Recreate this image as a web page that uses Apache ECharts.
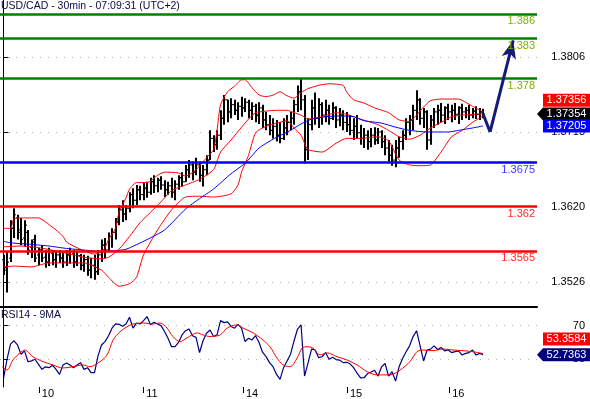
<!DOCTYPE html>
<html>
<head>
<meta charset="utf-8">
<title>USD/CAD 30min</title>
<script src="https://cdn.jsdelivr.net/npm/echarts@6/dist/echarts.min.js"></script>
<style>
  html, body { margin: 0; padding: 0; background: #fff; }
  #chart { width: 590px; height: 399px; }
</style>
</head>
<body>
<div id="chart"></div>
<script>
// price bars, one per 30min: [open, close, low, high]
const bars = [
  [1.3554,1.3541,1.3535,1.3560],[1.3544,1.3551,1.3513,1.3564],[1.3556,1.3593,1.3551,1.3603],[1.3593,1.3610,1.3581,1.3618],
  [1.3606,1.3588,1.3579,1.3610],[1.3591,1.3579,1.3572,1.3606],[1.3581,1.3597,1.3570,1.3603],[1.3588,1.3566,1.3560,1.3591],
  [1.3569,1.3576,1.3556,1.3579],[1.3579,1.3556,1.3551,1.3585],[1.3560,1.3566,1.3547,1.3569],[1.3566,1.3556,1.3551,1.3572],
  [1.3557,1.3551,1.3544,1.3566],[1.3551,1.3564,1.3546,1.3569],[1.3562,1.3554,1.3547,1.3566],[1.3554,1.3560,1.3544,1.3564],
  [1.3560,1.3556,1.3550,1.3566],[1.3556,1.3551,1.3544,1.3564],[1.3551,1.3560,1.3546,1.3566],[1.3560,1.3564,1.3549,1.3569],
  [1.3562,1.3551,1.3544,1.3566],[1.3551,1.3559,1.3546,1.3564],[1.3559,1.3547,1.3541,1.3561],[1.3547,1.3554,1.3539,1.3560],
  [1.3554,1.3541,1.3534,1.3559],[1.3541,1.3547,1.3531,1.3556],[1.3547,1.3539,1.3529,1.3560],[1.3539,1.3560,1.3535,1.3566],
  [1.3560,1.3572,1.3551,1.3579],[1.3572,1.3566,1.3556,1.3581],[1.3566,1.3583,1.3564,1.3588],[1.3583,1.3588,1.3569,1.3593],
  [1.3588,1.3601,1.3579,1.3606],[1.3601,1.3616,1.3597,1.3622],[1.3616,1.3611,1.3601,1.3628],[1.3611,1.3618,1.3603,1.3622],
  [1.3618,1.3635,1.3613,1.3638],[1.3635,1.3628,1.3618,1.3643],[1.3628,1.3641,1.3622,1.3647],[1.3641,1.3635,1.3628,1.3646],
  [1.3635,1.3643,1.3628,1.3650],[1.3643,1.3638,1.3631,1.3651],[1.3638,1.3651,1.3635,1.3656],[1.3651,1.3646,1.3637,1.3659],
  [1.3646,1.3653,1.3638,1.3656],[1.3653,1.3647,1.3641,1.3658],[1.3647,1.3641,1.3632,1.3653],[1.3641,1.3646,1.3635,1.3651],
  [1.3646,1.3638,1.3631,1.3656],[1.3638,1.3648,1.3628,1.3653],[1.3648,1.3656,1.3641,1.3659],[1.3656,1.3651,1.3645,1.3663],
  [1.3651,1.3666,1.3651,1.3672],[1.3666,1.3672,1.3656,1.3678],[1.3672,1.3663,1.3653,1.3676],[1.3663,1.3672,1.3659,1.3681],
  [1.3672,1.3659,1.3651,1.3676],[1.3659,1.3666,1.3645,1.3672],[1.3666,1.3678,1.3659,1.3684],[1.3678,1.3705,1.3678,1.3715],
  [1.3705,1.3697,1.3688,1.3709],[1.3697,1.3709,1.3691,1.3715],[1.3709,1.3730,1.3703,1.3740],[1.3730,1.3753,1.3722,1.3759],
  [1.3753,1.3738,1.3725,1.3753],[1.3738,1.3747,1.3730,1.3755],[1.3747,1.3740,1.3734,1.3753],[1.3740,1.3745,1.3728,1.3750],
  [1.3745,1.3743,1.3732,1.3757],[1.3743,1.3750,1.3738,1.3755],[1.3750,1.3740,1.3730,1.3753],[1.3740,1.3745,1.3728,1.3750],
  [1.3745,1.3734,1.3725,1.3748],[1.3734,1.3743,1.3723,1.3750],[1.3743,1.3728,1.3718,1.3747],[1.3728,1.3722,1.3715,1.3738],
  [1.3722,1.3715,1.3709,1.3734],[1.3715,1.3720,1.3705,1.3730],[1.3720,1.3709,1.3701,1.3728],[1.3709,1.3705,1.3699,1.3725],
  [1.3705,1.3718,1.3703,1.3730],[1.3718,1.3725,1.3709,1.3734],[1.3725,1.3730,1.3715,1.3738],[1.3730,1.3747,1.3722,1.3753],
  [1.3747,1.3763,1.3738,1.3771],[1.3763,1.3753,1.3740,1.3780],[1.3753,1.3691,1.3674,1.3759],[1.3691,1.3722,1.3678,1.3730],
  [1.3722,1.3743,1.3715,1.3753],[1.3743,1.3730,1.3722,1.3762],[1.3730,1.3747,1.3718,1.3755],[1.3747,1.3734,1.3722,1.3750],
  [1.3734,1.3740,1.3725,1.3753],[1.3740,1.3730,1.3722,1.3747],[1.3730,1.3743,1.3728,1.3750],[1.3743,1.3728,1.3718,1.3745],
  [1.3728,1.3734,1.3720,1.3743],[1.3734,1.3725,1.3715,1.3740],[1.3725,1.3722,1.3713,1.3738],[1.3722,1.3715,1.3709,1.3734],
  [1.3715,1.3720,1.3703,1.3730],[1.3720,1.3712,1.3705,1.3734],[1.3712,1.3705,1.3697,1.3722],[1.3705,1.3709,1.3693,1.3718],
  [1.3709,1.3701,1.3691,1.3715],[1.3701,1.3709,1.3694,1.3718],[1.3709,1.3703,1.3697,1.3719],[1.3703,1.3713,1.3698,1.3718],
  [1.3713,1.3701,1.3693,1.3715],[1.3701,1.3693,1.3684,1.3709],[1.3693,1.3684,1.3676,1.3703],[1.3684,1.3678,1.3671,1.3697],
  [1.3678,1.3693,1.3669,1.3703],[1.3693,1.3701,1.3681,1.3707],[1.3701,1.3709,1.3691,1.3715],[1.3709,1.3725,1.3703,1.3730],
  [1.3725,1.3728,1.3709,1.3734],[1.3728,1.3740,1.3715,1.3747],[1.3740,1.3753,1.3728,1.3765],[1.3753,1.3730,1.3722,1.3755],
  [1.3730,1.3738,1.3718,1.3743],[1.3738,1.3703,1.3691,1.3740],[1.3703,1.3728,1.3697,1.3734],[1.3728,1.3738,1.3718,1.3743],
  [1.3738,1.3740,1.3722,1.3747],[1.3740,1.3734,1.3725,1.3749],[1.3734,1.3743,1.3723,1.3745],[1.3743,1.3738,1.3728,1.3748],
  [1.3738,1.3740,1.3725,1.3747],[1.3740,1.3735,1.3728,1.3749],[1.3735,1.3743,1.3723,1.3745],[1.3743,1.3738,1.3728,1.3748],
  [1.3738,1.3740,1.3730,1.3744],[1.3740,1.3734,1.3728,1.3747],[1.3734,1.3739,1.3730,1.3743],[1.3739,1.3735,1.3729,1.3745],
  [1.3735,1.3738,1.3728,1.3743],[1.3738,1.37354,1.3730,1.3742]
];

// bollinger bands and moving average, [bar index, price]
const bbUpper = [[0,1.3593],[2,1.3593],[3,1.3605],[6,1.3606],[10,1.3606],[12,1.3601],[15,1.3591],[17,1.3583],[18,1.3576],[20,1.3571],
  [23,1.3565],[26,1.3561],[28,1.3564],[29,1.3569],[30,1.3579],[32,1.3593],[33,1.3613],[35,1.3631],[36,1.3642],[38,1.3650],
  [41,1.3650],[44,1.3659],[46,1.3663],[50,1.3662],[52,1.3658],[55,1.3666],[57,1.3676],[58,1.3681],[60,1.3691],[61,1.3715],
  [62,1.3747],[64,1.3763],[66,1.3770],[68,1.3778],[69,1.3778],[71,1.3768],[73,1.3759],[75,1.3757],[77,1.3759],[79,1.3763],
  [81,1.3758],[83,1.3755],[85,1.3762],[87,1.3767],[90,1.3771],[93,1.3773],[97,1.3771],[98,1.3763],[100,1.3753],[103,1.3749],
  [106,1.3743],[110,1.3737],[113,1.3728],[116,1.3726],[118,1.3734],[120,1.3744],[122,1.3752],[125,1.3754],[130,1.3754],
  [132,1.3750],[134,1.3745],[137,1.3738]];
const bbMid = [[0,1.3570],[5,1.3571],[10,1.3569],[16,1.3564],[23,1.3557],[28,1.3555],[30,1.3557],[33,1.3567],[36,1.3583],
  [39,1.3600],[42,1.3613],[45,1.3626],[48,1.3640],[52,1.3647],[56,1.3654],[60,1.3666],[62,1.3688],[65,1.3703],[68,1.3719],
  [70,1.3729],[72,1.3737],[75,1.3739],[78,1.3740],[81,1.3740],[83,1.3737],[85,1.3734],[87,1.3729],[91,1.3732],[95,1.3737],
  [98,1.3735],[102,1.3729],[107,1.3722],[110,1.3715],[113,1.3707],[116,1.3704],[119,1.3709],[122,1.3718],[125,1.3725],
  [128,1.3732],[131,1.3734],[134,1.3735],[137,1.37356]];
const bbLower = [[0,1.3545],[3,1.3546],[8,1.3545],[13,1.3550],[23,1.3550],[28,1.3541],[30,1.3532],[33,1.3521],[36,1.3524],
  [38,1.3532],[40,1.3560],[44,1.3591],[48,1.3616],[52,1.3632],[56,1.3633],[60,1.3632],[65,1.3636],[67,1.3647],[68,1.3663],
  [70,1.3684],[72,1.3712],[75,1.3720],[78,1.3724],[81,1.3727],[83,1.3718],[85,1.3709],[86,1.3699],[87,1.3691],[91,1.3688],
  [95,1.3699],[98,1.3705],[102,1.3705],[107,1.3707],[110,1.3702],[113,1.3678],[116,1.3672],[119,1.3671],[122,1.3672],
  [125,1.3688],[128,1.3707],[131,1.3715],[134,1.3725],[137,1.3733]];
const ma = [[0,1.3577],[2,1.3575],[8,1.3573],[13,1.3571],[18,1.3568],[23,1.3566],[28,1.3564],[31,1.3565],[35,1.3567],
  [41,1.3579],[46,1.3591],[52,1.3617],[56,1.3630],[60,1.3642],[65,1.3661],[69,1.3674],[73,1.3693],[77,1.3704],[82,1.3715],
  [85,1.3723],[88,1.3729],[92,1.3732],[96,1.3733],[100,1.3732],[103,1.3727],[108,1.3724],[112,1.3719],[116,1.3715],
  [121,1.3713],[127,1.3713],[130,1.3715],[134,1.3718],[137,1.37205]];

// support / resistance levels
const resistances = [1.386, 1.383, 1.378];
const pivot = 1.3675;
const supports = [1.362, 1.3565];

// projected path: last bar, dip, target
const projection = [[137, 1.37354], [139, 1.3713], [145.6, 1.3827]];

// RSI14, one per bar
const rsi = [38.5,50,59,61,58.5,53,55,48.5,49,50, 47,44,45.5,45,46.5,44,41,46.6,47.8,46.6,
  45,46.6,48,44,45,42,42,52,58.5,60.5, 64,68.5,71,70.8,69.6,71,75,68.5,71.5,71,
  73,75.4,70.6,72,71,70,66.5,62.5,57.5,57.5, 60,64.5,67,68,64,63,54,61,65.5,67.4,
  63.5,64.5,73,71.8,72.2,69.5,68.5,70.8,68.5,60.5, 62.5,61.5,64,60,54.2,51.6,48,45.6,41,38,
  45,49,53,61,68,70.5,40,47.8,56,55.5, 51,51.5,54,50,51.2,49.8,49.5,48,48.2,47.3,
  45,41.7,38.9,39,41.5,42.4,43.5,40,45.5,47.5, 40,42.6,37,45.5,50.5,54.5,58,63.5,67,58,
  49,55.5,56,58,55.8,57,55,55.5,54,54.5, 55,52.5,53.5,54,55.5,52.5,53.5,52.7363];
// 9 period MA of RSI, [bar index, value]
const rsiMa = [[-0.4,45.6],[1,43.6],[2.7,49.6],[4.7,53.8],[6.1,55.5],[8.4,51.5],[11.3,48.6],[14.1,46.6],[17,44.8],
  [19.9,45.6],[22.7,46.6],[24.7,45.6],[27.6,48.6],[29.6,52.6],[31.3,61.5],[33.3,66.4],[35.3,69.4],[37,71.0],[39.9,71.6],
  [42.7,71.0],[44.7,71.6],[46.7,68.6],[48.4,63.5],[50.4,60.5],[52.4,62.7],[55.3,65.7],[57,64.5],[59,63.5],[61.9,64.5],
  [63.9,68.6],[66.7,70.4],[68.4,68.6],[71.3,65.7],[74.1,61.5],[76.1,57.5],[78.1,50.8],[79.9,46.6],[81.9,45.6],[83.9,50.8],
  [85.3,56.7],[86.7,57.5],[88.4,56.7],[90.4,52.6],[92.4,53.8],[95.3,51.5],[98.1,49.6],[101,46.6],[103.9,42.6],[106.7,40.7],
  [110.4,40.7],[113.3,43.6],[116.1,48.6],[118.1,54.5],[119.9,55.5],[122.7,55.1],[125.6,56.1],[128.4,55.5],[131.3,55.1],
  [134.1,54.5],[137,53.3584]];

// axis ticks
const priceTicks = [1.3526, 1.3620, 1.3713, 1.3806];
const rsiTicks = [50, 70];
const dayTicks = [10.1, 39.9, 68.4, 98.1, 127.3];
const dayLabels = ['10', '11', '14', '15', '16'];

const FONT = 'Liberation Sans, Arial, sans-serif';
const X_MIN = -1, X_MAX = 152.4;
const last = a => a[a.length - 1][1];
const closeLast = bars[bars.length - 1][1];

const chart = echarts.init(document.getElementById('chart'));

function renderBar(params, api) {
  const i = api.value(0);
  const o = api.coord([i, api.value(1)]);
  const c = api.coord([i, api.value(2)]);
  const l = api.coord([i, api.value(3)]);
  const h = api.coord([i, api.value(4)]);
  const x = Math.round(o[0]);
  return {
    type: 'group',
    children: [
      { type: 'line', shape: { x1: x, y1: h[1], x2: x, y2: l[1] }, style: { stroke: '#000', lineWidth: 2 } },
      { type: 'line', shape: { x1: x - 2, y1: o[1], x2: x, y2: o[1] }, style: { stroke: '#000', lineWidth: 1 } },
      { type: 'line', shape: { x1: x, y1: c[1], x2: x + 2, y2: c[1] }, style: { stroke: '#000', lineWidth: 1 } }
    ]
  };
}

const tagArrow = 'path://M0,6.5 L6,0 L53,0 L53,13 L6,13 Z';

const levelData = [
  ...resistances.map(v => ({ yAxis: v, lineStyle: { color: '#008000' }, label: { color: '#7fb000' } })),
  { yAxis: pivot, lineStyle: { color: '#0000ff' }, label: { color: '#3b3bff' } },
  ...supports.map(v => ({ yAxis: v, lineStyle: { color: '#ff0000' }, label: { color: '#ff2a2a' } }))
];

const option = {
  animation: false,
  backgroundColor: '#fff',
  textStyle: { fontFamily: FONT },
  title: [
    { text: 'USD/CAD - 30min - 07:09:31 (UTC+2)', left: 1, top: 1, padding: 0,
      textStyle: { fontSize: 10.5, fontWeight: 'normal', color: '#0c0c40', fontFamily: FONT } },
    { text: 'RSI14 - 9MA', left: 1, top: 310, padding: 0,
      textStyle: { fontSize: 10.5, fontWeight: 'normal', color: '#0c0c40', fontFamily: FONT } }
  ],
  grid: [
    { left: 0, right: 53, top: 0, bottom: 92 },
    { left: 0, right: 53, top: 308, bottom: 12 }
  ],
  xAxis: [
    { gridIndex: 0, type: 'value', min: X_MIN, max: X_MAX,
      axisLine: { show: true, onZero: false, lineStyle: { color: '#000', width: 2 } },
      axisTick: { show: false }, axisLabel: { show: false }, splitLine: { show: false } },
    { gridIndex: 1, type: 'value', min: X_MIN, max: X_MAX,
      axisLine: { show: false, onZero: false },
      axisTick: { show: true, customValues: dayTicks, length: 6, lineStyle: { color: '#000' } },
      axisLabel: { show: true, customValues: dayTicks, align: 'left', padding: [0, 0, 0, 3], margin: 1,
        fontSize: 11, color: '#000', fontFamily: FONT,
        formatter: v => dayLabels[dayTicks.findIndex(t => Math.abs(t - v) < 1e-6)] || '' },
      splitLine: { show: false } }
  ],
  yAxis: [
    { gridIndex: 0, type: 'value', position: 'right', min: 1.34951, max: 1.38773,
      axisLine: { show: true, lineStyle: { color: '#000', width: 1 } },
      axisTick: { show: true, customValues: priceTicks, length: 6, lineStyle: { color: '#000' } },
      axisLabel: { show: true, customValues: priceTicks, align: 'right', margin: 48, fontSize: 11,
        color: '#000', fontFamily: FONT, formatter: v => v.toFixed(4) },
      splitLine: { show: false } },
    { gridIndex: 1, type: 'value', position: 'right', min: 33.5, max: 80.5,
      axisLine: { show: true, lineStyle: { color: '#000', width: 1 } },
      axisTick: { show: true, customValues: rsiTicks, length: 6, lineStyle: { color: '#000' } },
      axisLabel: { show: true, customValues: rsiTicks, align: 'right', margin: 48, fontSize: 11,
        color: '#000', fontFamily: FONT, formatter: v => String(v) },
      splitLine: { show: false } }
  ],
  series: [
    {
      name: 'bars', type: 'custom', xAxisIndex: 0, yAxisIndex: 0, z: 2,
      renderItem: renderBar,
      encode: { x: 0, y: [1, 2, 3, 4] },
      data: bars.map((b, i) => [i, b[0], b[1], b[2], b[3]])
    },
    {
      name: 'bbUpper', type: 'line', xAxisIndex: 0, yAxisIndex: 0, z: 3,
      showSymbol: false, smooth: 0.2, lineStyle: { color: '#ff0000', width: 1 }, data: bbUpper,
      markLine: { silent: true, z: 1, precision: 5, symbol: ['none', 'none'], label: { show: false },
        lineStyle: { color: '#b4b4b4', type: [1, 7], width: 1 },
        data: priceTicks.map(v => ({ yAxis: v })) }
    },
    {
      name: 'bbMid', type: 'line', xAxisIndex: 0, yAxisIndex: 0, z: 3,
      showSymbol: false, smooth: 0.2, lineStyle: { color: '#ff0000', width: 1 }, data: bbMid
    },
    {
      name: 'bbLower', type: 'line', xAxisIndex: 0, yAxisIndex: 0, z: 3,
      showSymbol: false, smooth: 0.2, lineStyle: { color: '#ff0000', width: 1 }, data: bbLower,
      markLine: { silent: true, precision: 5, symbol: ['none', 'none'],
        lineStyle: { width: 2.5, type: 'solid' },
        label: { show: true, position: 'insideEndBottom', distance: [2, 2], fontSize: 11, fontFamily: FONT,
          formatter: p => String(p.value) },
        data: levelData }
    },
    {
      name: 'ma', type: 'line', xAxisIndex: 0, yAxisIndex: 0, z: 3,
      showSymbol: false, smooth: 0.2, lineStyle: { color: '#0000ff', width: 1 }, data: ma,
      markLine: { silent: true, precision: 5, symbol: ['none', 'none'], label: { show: false },
        lineStyle: { color: '#141a78', width: 3, type: 'solid' },
        data: [
          [{ coord: projection[0] }, { coord: projection[1] }],
          [{ coord: projection[1] }, { coord: projection[2], symbol: 'arrow', symbolSize: [11, 18] }]
        ] },
      markPoint: { silent: true,
        label: { show: true, position: 'inside', color: '#fff', fontSize: 11, fontFamily: FONT },
        data: [
          { coord: [X_MAX, last(bbMid)], symbol: 'rect', symbolSize: [47, 13], symbolOffset: [29.5, -13.5],
            itemStyle: { color: '#ff0000' }, label: { formatter: last(bbMid).toFixed(5) } },
          { coord: [X_MAX, closeLast], symbol: tagArrow, symbolSize: [53, 13], symbolOffset: [26.5, 0],
            itemStyle: { color: '#000' }, label: { formatter: closeLast.toFixed(5), offset: [3, 0] } },
          { coord: [X_MAX, last(ma)], symbol: 'rect', symbolSize: [47, 13], symbolOffset: [29.5, 0],
            itemStyle: { color: '#0000ff' }, label: { formatter: last(ma).toFixed(5) } }
        ] }
    },
    {
      name: 'rsi', type: 'line', xAxisIndex: 1, yAxisIndex: 1, z: 3,
      showSymbol: false, lineStyle: { color: '#000080', width: 1.2 },
      data: rsi.map((v, i) => [i, v]),
      markLine: { silent: true, z: 1, precision: 2, symbol: ['none', 'none'], label: { show: false },
        lineStyle: { color: '#b4b4b4', type: [1, 7], width: 1 },
        data: rsiTicks.map(v => ({ yAxis: v })) },
      markPoint: { silent: true,
        label: { show: true, position: 'inside', color: '#fff', fontSize: 11, fontFamily: FONT },
        data: [
          { coord: [X_MAX, last(rsiMa)], symbol: 'rect', symbolSize: [47, 13], symbolOffset: [29.5, -14.5],
            itemStyle: { color: '#ff0000' }, label: { formatter: last(rsiMa).toFixed(4) } },
          { coord: [X_MAX, rsi[rsi.length - 1]], symbol: tagArrow, symbolSize: [53, 13], symbolOffset: [26.5, 0],
            itemStyle: { color: '#000080' }, label: { formatter: rsi[rsi.length - 1].toFixed(4), offset: [3, 0] } }
        ] }
    },
    {
      name: 'rsiMa', type: 'line', xAxisIndex: 1, yAxisIndex: 1, z: 3,
      showSymbol: false, smooth: 0.3, lineStyle: { color: '#ff0000', width: 1 }, data: rsiMa
    }
  ]
};

chart.setOption(option);
</script>
</body>
</html>
